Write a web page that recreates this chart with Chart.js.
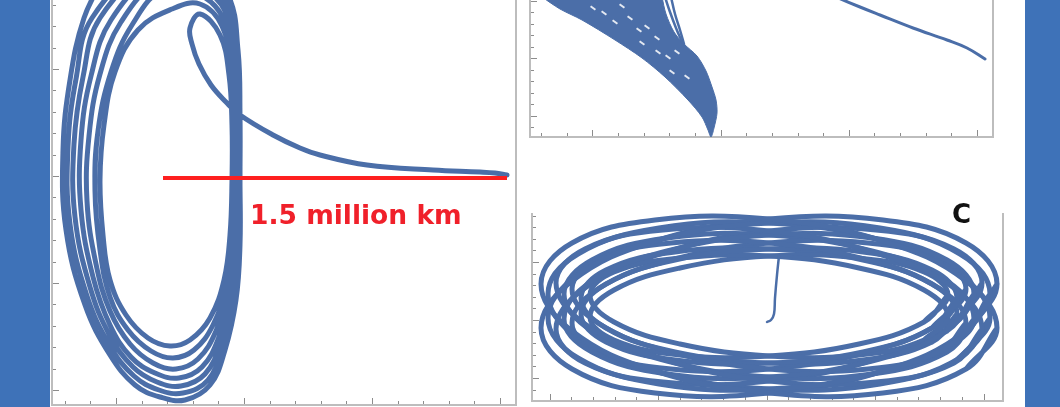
<!DOCTYPE html>
<html>
<head>
<meta charset="utf-8">
<script src="https://cdn.jsdelivr.net/npm/chart.js@4.4.1/dist/chart.umd.min.js"></script>
<style>
  html, body { margin: 0; padding: 0; }
  body { width: 1060px; height: 407px; background: #3e72b8; position: relative; overflow: hidden; }
  #panel { position: absolute; left: 50px; top: 0; width: 975px; height: 407px; background: #fff; }
  canvas { position: absolute; }
  #haloChart { left: 50px; top: 0; }
  #sideChart { left: 516px; top: 0; }
  #ringChart { left: 516px; top: 190px; }
  .note { position: absolute; font-family: 'DejaVu Sans', sans-serif; font-weight: bold; font-size: 26px; line-height: 26px; white-space: nowrap; }
  #distance { left: 250px; top: 202px; color: #f0202a; font-size: 26.5px; }
  #panelC { left: 952px; top: 201px; color: #111; }
</style>
</head>
<body>
<div id="panel"></div>
<canvas id="haloChart" width="468" height="407"></canvas>
<canvas id="sideChart" width="490" height="145"></canvas>
<canvas id="ringChart" width="500" height="217"></canvas>
<div class="note" id="distance">1.5 million km</div>
<div class="note" id="panelC">C</div>
<script>
// Couleurs
const orbitColor = '#4b6ea8';
const redColor = '#fe1f1f';
const axisColor = '#bdbdbd';
const tickColor = '#8c8c8c';

// Panneau de gauche : trajectoire de transfert puis orbite de halo (lecture en unités du graphe)
const transfer = [[507,175],[495,173],[480,172],[433,170],[367,165],[320,155],[300,148],[273,135],[240,115],[226,102],[211,85],[199,64],[192,44],[190,28]];
const haloLoop1 = [[200,14],[220,35],[229,75],[232,125],[232,180],[230,235],[224,280],[210,318],[190,340],[170,346],[148,338],[126,315],[110,280],[103,235],[100,180],[104,125],[115,72],[138,30],[172,9]];
const haloLoop2 = [[200,4],[222,26],[231,70],[234,123],[234,180],[232,237],[227,284],[213,325],[194,350],[173,358],[151,351],[128,330],[110,297],[100,250],[95,191],[98,131],[111,72],[132,25]];
const haloLoop3 = [[163,-10],[200,-5],[223,18],[233,64],[235,121],[235,180],[234,239],[229,288],[216,331],[198,359],[176,369],[153,363],[130,344],[110,311],[96,264],[87,201],[89,136],[100,74],[121,22]];
const haloLoop4 = [[159,-17],[200,-12],[225,11],[234,60],[237,119],[237,180],[236,241],[231,292],[219,337],[202,367],[179,378],[155,373],[131,357],[110,325],[93,277],[81,210],[81,140],[91,76],[111,20]];
const haloLoop5 = [[156,-24],[200,-19],[226,5],[236,56],[238,117],[238,180],[237,242],[233,295],[221,342],[205,374],[181,386],[157,382],[133,367],[110,336],[90,287],[75,217],[74,144],[83,77],[100,18]];
const haloLoop6 = [[153,-30],[200,-25],[227,0],[237,53],[239,116],[239,180],[239,244],[235,298],[223,346],[208,380],[183,393],[159,390],[134,376],[110,346],[87,296],[70,224],[68,147],[76,79],[92,18]];
const haloLoop7 = [[150,-35],[200,-30],[228,-5],[238,50],[240,115],[240,180],[240,245],[236,300],[225,350],[210,385],[185,400],[160,397],[135,385],[110,355],[85,305],[66,230],[63,150],[70,80],[84,18],[105,-25]];
const distanceLine = [[163,178],[507,178]];

// Panneau en haut à droite
const sideBand = [[542,-3],[560,9],[582,20],[615,40],[642,58],[665,77],[688,100],[702,117],[708,130],[711,137],[714,128],[717,113],[716,100],[712,87],[706,71],[697,56],[684,44],[674,32],[666,14],[662,-3]];
const sideGaps = [[593,8],[604,13],[622,6],[615,22],[630,18],[639,30],[647,27],[657,38],[642,43],[658,52],[668,57],[677,52],[672,72],[687,77]];
const sideArrivalA = [[665,-3],[670,12],[676,28],[682,42]];
const sideArrivalB = [[671,-3],[675,14],[680,30],[684,44]];
const sideDeparture = [[836,-3],[860,7],[880,15],[913,28],[947,40],[967,48],[985,59]];

// Panneau C : orbite de Lissajous, une révolution par tableau
const ring1 = [[997,328],[966,369],[883,393],[769,393],[655,371],[572,331],[541,284],[572,243],[655,220],[769,219],[883,241],[966,281]];
const ring2 = [[990,294],[960,338],[880,372],[769,389],[659,384],[578,358],[548,318],[578,275],[659,240],[769,223],[880,228],[960,254]];
const ring3 = [[982,329],[954,363],[876,382],[769,381],[663,359],[585,324],[556,283],[585,249],[663,230],[769,231],[876,253],[954,288]];
const ring4 = [[974,294],[947,331],[872,361],[769,377],[667,374],[592,352],[564,319],[592,281],[667,251],[769,235],[872,238],[947,260]];
const ring5 = [[966,323],[940,352],[868,369],[769,369],[671,352],[598,323],[572,289],[598,260],[671,243],[769,243],[868,260],[940,289]];
const ring6 = [[957,298],[932,328],[863,352],[769,363],[675,360],[606,342],[581,314],[606,284],[675,260],[769,249],[863,252],[932,270]];
const ring7 = [[948,317],[924,340],[859,355],[769,356],[680,344],[614,322],[590,295],[614,272],[680,258],[769,256],[859,268],[924,290]];
const ring8 = [[948,295],[924,322],[859,344],[769,356],[680,355],[614,340],[590,317],[614,290],[680,268],[769,256],[859,258],[924,272]];
const ring9 = [[957,314],[932,342],[863,360],[769,363],[675,352],[606,328],[581,298],[606,270],[675,252],[769,249],[863,260],[932,284]];
const ring10 = [[966,289],[940,323],[868,352],[769,369],[671,369],[598,352],[572,323],[598,289],[671,260],[769,243],[868,243],[940,260]];
const ring11 = [[974,319],[947,352],[872,374],[769,377],[667,361],[592,331],[564,294],[592,260],[667,238],[769,235],[872,251],[947,281]];
const ring12 = [[982,283],[954,324],[876,359],[769,381],[663,382],[585,363],[556,329],[585,288],[663,253],[769,231],[876,230],[954,249]];
const ring13 = [[990,318],[960,358],[880,384],[769,389],[659,372],[578,338],[548,294],[578,254],[659,228],[769,223],[880,240],[960,275]];
const ring14 = [[997,284],[966,331],[883,371],[769,393],[655,393],[572,369],[541,328],[572,281],[655,241],[769,219],[883,220],[966,243]];
const ringDrift = [[779,256],[777,275],[775,298],[774,314],[771,320],[767,322]];

const pts = arr => arr.map(p => ({ x: p[0], y: p[1] }));

// Cadre et graduations tournées vers l'intérieur
const framePlugin = {
    id: 'frame',
    beforeDatasetsDraw(chart, args, o) {
        const { ctx, chartArea: a, scales } = chart;
        ctx.save();
        ctx.strokeStyle = axisColor;
        ctx.lineWidth = 2;
        ctx.beginPath();
        ctx.moveTo(a.left, a.top);
        ctx.lineTo(a.left, a.bottom + 1);
        if (o.right) {
            ctx.moveTo(a.right, a.top);
            ctx.lineTo(a.right, a.bottom + 1);
        }
        ctx.moveTo(a.left - 1, a.bottom);
        ctx.lineTo(a.right + 1, a.bottom);
        ctx.stroke();

        ctx.strokeStyle = tickColor;
        ctx.lineWidth = 1;
        ctx.beginPath();
        const tx = o.xTicks;
        for (let i = 0; ; i++) {
            const v = tx.first + i * tx.step;
            if (v > scales.x.max) break;
            const px = Math.round(scales.x.getPixelForValue(v)) + 0.5;
            const len = (i % 5 === tx.majorAt) ? 6 : 3;
            ctx.moveTo(px, a.bottom - 1);
            ctx.lineTo(px, a.bottom - 1 - len);
        }
        const ty = o.yTicks;
        for (let i = 0; ; i++) {
            const v = ty.first + i * ty.step;
            if (v > scales.y.max) break;
            const py = Math.round(scales.y.getPixelForValue(v)) + 0.5;
            const len = (i % 5 === ty.majorAt) ? 6 : 3;
            ctx.moveTo(a.left + 1, py);
            ctx.lineTo(a.left + 1 + len, py);
        }
        ctx.stroke();
        ctx.restore();
    }
};

function baseOptions(xMin, xMax, yMin, yMax, padding, frame) {
    return {
        responsive: false,
        animation: false,
        events: [],
        layout: { padding: padding, autoPadding: false },
        plugins: {
            legend: { display: false },
            tooltip: { enabled: false },
            frame: frame
        },
        scales: {
            x: { type: 'linear', display: false, min: xMin, max: xMax },
            y: { type: 'linear', display: false, min: yMin, max: yMax, reverse: true }
        }
    };
}

function curve(data, width, extra) {
    return Object.assign({
        data: pts(data),
        showLine: true,
        borderColor: orbitColor,
        borderWidth: width,
        pointRadius: 0,
        tension: 0.4,
        fill: false,
        borderCapStyle: 'round',
        borderJoinStyle: 'round'
    }, extra || {});
}

// Panneau de gauche
new Chart(document.getElementById('haloChart'), {
    type: 'scatter',
    data: {
        datasets: [
            curve(distanceLine, 4, { borderColor: redColor, tension: 0, borderCapStyle: 'butt' }),
            curve(transfer.concat(haloLoop1, haloLoop2, haloLoop3, haloLoop4, haloLoop5, haloLoop6, haloLoop7), 5)
        ]
    },
    options: baseOptions(52, 516, 0, 405, { left: 2, right: 2, top: 0, bottom: 2 }, {
        right: true,
        xTicks: { first: 64.8, step: 25.6, majorAt: 2 },
        yTicks: { first: 4.8, step: 21.4, majorAt: 3 }
    }),
    plugins: [framePlugin]
});

// Panneau en haut à droite
new Chart(document.getElementById('sideChart'), {
    type: 'scatter',
    data: {
        datasets: [
            {
                data: pts(sideGaps),
                pointStyle: 'line',
                pointRadius: 3,
                rotation: 36,
                borderColor: 'rgba(255,255,255,0.85)',
                borderWidth: 2,
                showLine: false
            },
            curve(sideArrivalA, 2.5),
            curve(sideArrivalB, 2.5),
            curve(sideDeparture, 3),
            curve(sideBand, 1, { tension: 0.3, fill: 'shape', backgroundColor: orbitColor })
        ]
    },
    options: baseOptions(530, 993, 0, 137, { left: 14, right: 13, top: 0, bottom: 8 }, {
        right: true,
        xTicks: { first: 541, step: 25.65, majorAt: 2 },
        yTicks: { first: 0.5, step: 11.5, majorAt: 0 }
    }),
    plugins: [framePlugin]
});

// Panneau C : chaque révolution est refermée en reprenant ses deux premiers points
const ringRevolutions = [ring1, ring2, ring3, ring4, ring5, ring6, ring7, ring8, ring9, ring10, ring11, ring12, ring13, ring14];
new Chart(document.getElementById('ringChart'), {
    type: 'scatter',
    data: {
        datasets: [curve(ringDrift, 2.5)].concat(
            ringRevolutions.map(r => curve(r.concat([r[0], r[1]]), 5, { clip: 6 }))
        )
    },
    options: baseOptions(532, 1003, 213, 401, { left: 16, right: 13, top: 23, bottom: 6 }, {
        right: true,
        xTicks: { first: 549.5, step: 21.7, majorAt: 0 },
        yTicks: { first: 215.6, step: 11.6, majorAt: 4 }
    }),
    plugins: [framePlugin]
});
</script>
</body>
</html>
